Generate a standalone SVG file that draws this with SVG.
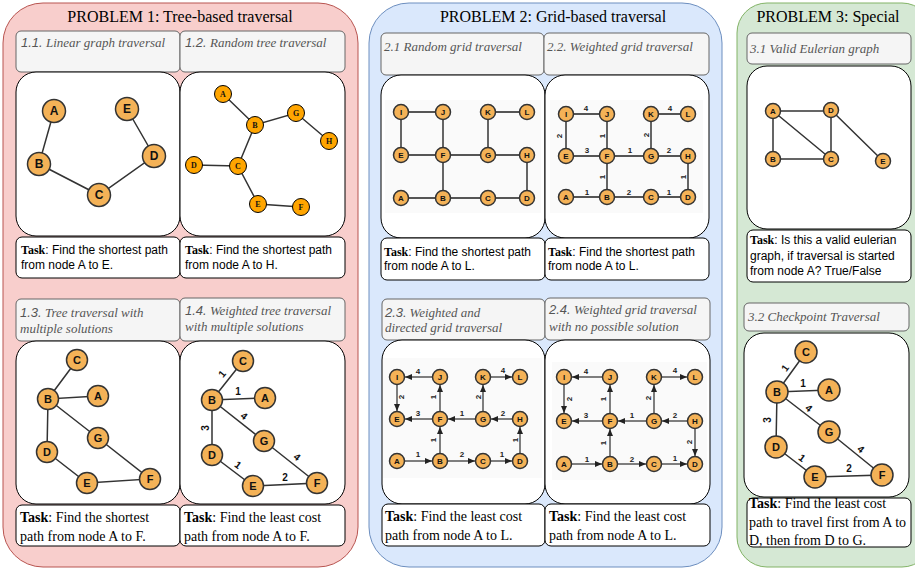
<svg xmlns="http://www.w3.org/2000/svg" width="915" height="570" viewBox="0 0 915 570">
<defs>
<marker id="ar" markerUnits="userSpaceOnUse" markerWidth="7" markerHeight="6" refX="7" refY="3" orient="auto"><path d="M0,0 L7,3 L0,6 z" fill="#222"/></marker>
<style>
.p1{fill:#f8cecc;stroke:#b85450;stroke-width:1}
.p2{fill:#dae8fc;stroke:#6c8ebf;stroke-width:1}
.p3{fill:#d5e8d4;stroke:#82b366;stroke-width:1}
.hd{fill:#f5f5f5;stroke:#666;stroke-width:1}
.gb{fill:#fff;stroke:#000;stroke-width:1}
.tb{fill:#fff;stroke:#000;stroke-width:1}
.bg{fill:#fafafa;stroke:none}
.title{font-family:"Liberation Serif",serif;font-size:16px;fill:#000;text-anchor:middle}
.ht{font-family:"Liberation Serif",serif;font-style:italic;font-size:13px;fill:#555}
.hn{font-family:"Liberation Sans",sans-serif;font-style:italic}
.tk{font-family:"Liberation Sans",sans-serif;font-size:12px;fill:#000}
.tkb{font-family:"Liberation Serif",serif;font-weight:bold}
.ts{font-family:"Liberation Serif",serif;font-size:14px;fill:#000}
.n{fill:#f4b257;stroke:#333;stroke-width:1.5}
.no{fill:#ffa500;stroke:#000;stroke-width:1}
.nl{font-family:"Liberation Sans",sans-serif;font-weight:bold;text-anchor:middle;fill:#111}
.nls{font-family:"Liberation Serif",serif;font-weight:bold;text-anchor:middle;font-size:8px;fill:#111}
.e{stroke:#333;stroke-width:1.5;fill:none}
.g{stroke:#555;stroke-width:1.8;fill:none}
.d{stroke:#555;stroke-width:1.5;fill:none;marker-end:url(#ar)}
.w{font-family:"Liberation Sans",sans-serif;font-weight:bold;font-size:10px;text-anchor:middle;fill:#111}
.ws{font-family:"Liberation Sans",sans-serif;font-weight:bold;font-size:8px;text-anchor:middle;fill:#222}
.s8{font-size:8px}.s11{font-size:11px}.s12{font-size:12px}
</style>
</defs>

<g id="panel1">
<rect class="p1" x="3" y="3" width="355" height="564" rx="40"/>
<text class="title" x="180" y="22">PROBLEM 1: Tree-based traversal</text>
<rect class="hd" x="16" y="31" width="164" height="41" rx="5"/>
<text class="ht" x="21" y="47"><tspan class="hn">1.1.</tspan> Linear graph traversal</text>
<rect class="hd" x="180" y="31" width="165" height="41" rx="5"/>
<text class="ht" x="185" y="47"><tspan class="hn">1.2.</tspan> Random tree traversal</text>
<rect class="gb" x="16" y="72" width="164" height="164" rx="20"/>
<rect class="gb" x="180" y="72" width="165" height="164" rx="20"/>
<rect class="tb" x="16" y="237" width="164" height="41" rx="6"/>
<text class="tk" x="21" y="254"><tspan class="tkb">Task</tspan>: Find the shortest path</text>
<text class="tk" x="21" y="269">from node A to E.</text>
<rect class="tb" x="180" y="237" width="165" height="41" rx="6"/>
<text class="tk" x="185" y="254"><tspan class="tkb">Task</tspan>: Find the shortest path</text>
<text class="tk" x="185" y="269">from node A to H.</text>
<rect class="hd" x="16" y="299" width="164" height="42" rx="5"/>
<text class="ht" x="20" y="317"><tspan class="hn">1.3.</tspan> Tree traversal with</text>
<text class="ht" x="20" y="333">multiple solutions</text>
<rect class="hd" x="180" y="298" width="165" height="43" rx="5"/>
<text class="ht" x="185" y="315"><tspan class="hn">1.4.</tspan> Weighted tree traversal</text>
<text class="ht" x="185" y="331">with multiple solutions</text>
<rect class="gb" x="16" y="341" width="164" height="163" rx="20"/>
<rect class="gb" x="180" y="341" width="165" height="163" rx="20"/>
<rect class="tb" x="16" y="505" width="164" height="41" rx="6"/>
<text class="ts" x="20" y="522"><tspan class="tkb">Task</tspan>: Find the shortest</text>
<text class="ts" x="20" y="541">path from node A to F.</text>
<rect class="tb" x="180" y="505" width="165" height="41" rx="6"/>
<text class="ts" x="184" y="522"><tspan class="tkb">Task</tspan>: Find the least cost</text>
<text class="ts" x="184" y="541">path from node A to F.</text>
</g>

<g id="panel2">
<rect class="p2" x="369" y="3" width="353" height="564" rx="40"/>
<text class="title" x="553" y="22">PROBLEM 2: Grid-based traversal</text>
<rect class="hd" x="381" y="33" width="163" height="42" rx="5"/>
<text class="ht" x="384" y="51">2.1 Random grid traversal</text>
<rect class="hd" x="544" y="33" width="165" height="42" rx="5"/>
<text class="ht" x="547" y="51">2.2. Weighted grid traversal</text>
<rect class="gb" x="381" y="75" width="164" height="163" rx="20"/>
<rect class="gb" x="545" y="75" width="164" height="163" rx="20"/>
<rect class="bg" x="385" y="100" width="156" height="113"/>
<rect class="bg" x="550" y="100" width="153" height="113"/>
<rect class="tb" x="381" y="238" width="164" height="42" rx="6"/>
<text class="tk" x="384" y="256"><tspan class="tkb">Task</tspan>: Find the shortest path</text>
<text class="tk" x="384" y="270">from node A to L.</text>
<rect class="tb" x="545" y="238" width="164" height="42" rx="6"/>
<text class="tk" x="548" y="256"><tspan class="tkb">Task</tspan>: Find the shortest path</text>
<text class="tk" x="548" y="270">from node A to L.</text>
<rect class="hd" x="382" y="299" width="163" height="41" rx="5"/>
<text class="ht" x="385" y="317"><tspan class="hn">2.3</tspan>. Weighted and</text>
<text class="ht" x="385" y="332">directed grid traversal</text>
<rect class="hd" x="545" y="298" width="165" height="42" rx="5"/>
<text class="ht" x="549" y="314"><tspan class="hn">2.4.</tspan> Weighted grid traversal</text>
<text class="ht" x="549" y="331">with no possible solution</text>
<rect class="gb" x="382" y="340" width="163" height="164" rx="20"/>
<rect class="gb" x="545" y="340" width="165" height="164" rx="20"/>
<rect class="bg" x="383" y="358" width="159" height="120"/>
<rect class="bg" x="552" y="362" width="155" height="118"/>
<rect class="tb" x="382" y="504" width="163" height="42" rx="6"/>
<text class="ts" x="385" y="521"><tspan class="tkb">Task</tspan>: Find the least cost</text>
<text class="ts" x="385" y="540">path from node A to L.</text>
<rect class="tb" x="545" y="504" width="165" height="42" rx="6"/>
<text class="ts" x="549" y="521"><tspan class="tkb">Task</tspan>: Find the least cost</text>
<text class="ts" x="549" y="540">path from node A to L.</text>
</g>

<g id="panel3">
<rect class="p3" x="737" y="3" width="195" height="564" rx="30"/>
<text class="title" x="828" y="22">PROBLEM 3: Special</text>
<rect class="hd" x="747" y="33" width="164" height="31" rx="5"/>
<text class="ht" x="750" y="53">3.1 Valid Eulerian graph</text>
<rect class="gb" x="747" y="66" width="164" height="163" rx="20"/>
<rect class="tb" x="747" y="230" width="164" height="52" rx="6"/>
<text class="tk" x="750" y="244"><tspan class="tkb">Task</tspan>: Is this a valid eulerian</text>
<text class="tk" x="750" y="260">graph, if traversal is started</text>
<text class="tk" x="750" y="275">from node A? True/False</text>
<rect class="hd" x="744" y="303" width="165" height="28" rx="5"/>
<text class="ht" x="748" y="321">3.2 Checkpoint Traversal</text>
<rect class="gb" x="744" y="333" width="165" height="164" rx="20"/>
<rect class="tb" x="747" y="498" width="164" height="49" rx="6"/>
<text class="ts" x="749" y="508"><tspan class="tkb">Task</tspan>: Find the least cost</text>
<text class="ts" x="749" y="527">path to travel first from A to</text>
<text class="ts" x="749" y="545">D, then from D to G.</text>
</g>

<g id="connectors">
<path class="e" d="M54,111 L39,164 L99,195 L154,156 L127,109"/>
<path class="e" d="M223,94 L255,125 L296,113 L329,141 M255,125 L238,166 L194,165 M238,166 L258,204 L301,207" stroke-width="1.2"/>
<path class="e" d="M77,360 L48,399 L98,396 M48,399 L98,438 L150,479 L87,483 L47,452 L48,399"/>
<path class="e" d="M243,361 L212,400 L265,398 M212,400 L264,441 L317,483 L253,486 L212,455 L212,400"/>
<path class="g" d="M401,112 H443 M488,112 H527 M401,112 V155 M443,112 V198 M488,112 V155 M401,155 H527 M527,155 V198 M401,198 H527"/>
<path class="g" d="M566,114 H607 M651,114 H688 M566,114 V156 M607,114 V197 M651,114 V156 M566,156 H688 M688,156 V197 M566,197 H688"/>
<line class="d" x1="432.5" y1="377" x2="405" y2="377"/>
<line class="d" x1="490.5" y1="377" x2="512" y2="377"/>
<line class="d" x1="397" y1="384.5" x2="397" y2="411"/>
<line class="d" x1="440" y1="411.5" x2="440" y2="385"/>
<line class="d" x1="483" y1="411.5" x2="483" y2="385"/>
<line class="d" x1="432.5" y1="419" x2="405" y2="419"/>
<line class="d" x1="475.5" y1="419" x2="448" y2="419"/>
<line class="d" x1="512.5" y1="419" x2="491" y2="419"/>
<line class="d" x1="440" y1="453.5" x2="440" y2="427"/>
<line class="d" x1="520" y1="453.5" x2="520" y2="427"/>
<line class="d" x1="404.5" y1="461" x2="432" y2="461"/>
<line class="d" x1="447.5" y1="461" x2="475" y2="461"/>
<line class="d" x1="490.5" y1="461" x2="512" y2="461"/>
<line class="d" x1="602.5" y1="377" x2="572" y2="377"/>
<line class="d" x1="661.5" y1="377" x2="687" y2="377"/>
<line class="d" x1="564" y1="384.5" x2="564" y2="413"/>
<line class="d" x1="610" y1="413.5" x2="610" y2="385"/>
<line class="d" x1="654" y1="413.5" x2="654" y2="385"/>
<line class="d" x1="602.5" y1="421" x2="572" y2="421"/>
<line class="d" x1="646.5" y1="421" x2="618" y2="421"/>
<line class="d" x1="687.5" y1="421" x2="662" y2="421"/>
<line class="d" x1="610" y1="456.5" x2="610" y2="429"/>
<line class="d" x1="695" y1="428.5" x2="695" y2="456"/>
<line class="d" x1="571.5" y1="464" x2="602" y2="464"/>
<line class="d" x1="617.5" y1="464" x2="646" y2="464"/>
<line class="d" x1="661.5" y1="464" x2="687" y2="464"/>
<path class="e" d="M773,111 H831 V159 H773 Z M773,111 L831,159 M831,110 L883,161"/>
<path class="e" d="M806,352 L777,392 L829,390 M777,392 L829,432 L882,475 L815,477 L776,447 L777,392"/>

<text class="w" transform="translate(222 374) rotate(-51)" y="3.5">1</text>
<text class="w" x="238" y="395">1</text>
<text class="w" transform="translate(244 416) rotate(38)" y="3.5">4</text>
<text class="w" transform="translate(205 428) rotate(-90)" y="3.5">3</text>
<text class="w" transform="translate(238 465) rotate(37)" y="3.5">1</text>
<text class="w" x="285" y="481">2</text>
<text class="w" transform="translate(297 457) rotate(38)" y="3.5">4</text>
<text class="ws" x="586" y="111">4</text>
<text class="ws" x="670" y="111">4</text>
<text class="ws" transform="translate(559 136) rotate(-90)" y="3">2</text>
<text class="ws" transform="translate(602 136) rotate(-90)" y="3">1</text>
<text class="ws" transform="translate(646 135) rotate(-90)" y="3">2</text>
<text class="ws" x="587" y="153">3</text>
<text class="ws" x="630" y="153">1</text>
<text class="ws" x="669" y="153">2</text>
<text class="ws" transform="translate(602 177) rotate(-90)" y="3">1</text>
<text class="ws" transform="translate(683 177) rotate(-90)" y="3">1</text>
<text class="ws" x="587" y="195">1</text>
<text class="ws" x="629" y="195">2</text>
<text class="ws" x="669" y="195">1</text>
<text class="ws" x="418" y="374">4</text>
<text class="ws" x="503" y="373">4</text>
<text class="ws" transform="translate(401 397) rotate(-90)" y="3">2</text>
<text class="ws" transform="translate(433 397) rotate(-90)" y="3">1</text>
<text class="ws" transform="translate(478 397) rotate(-90)" y="3">2</text>
<text class="ws" x="418" y="416">3</text>
<text class="ws" x="462" y="416">1</text>
<text class="ws" x="503" y="416">2</text>
<text class="ws" transform="translate(433 440) rotate(-90)" y="3">1</text>
<text class="ws" transform="translate(515 440) rotate(-90)" y="3">1</text>
<text class="ws" x="418" y="457">1</text>
<text class="ws" x="462" y="457">2</text>
<text class="ws" x="502" y="457">1</text>
<text class="ws" x="586" y="374">4</text>
<text class="ws" x="675" y="373">4</text>
<text class="ws" transform="translate(569 399) rotate(-90)" y="3">2</text>
<text class="ws" transform="translate(603 399) rotate(-90)" y="3">1</text>
<text class="ws" transform="translate(648 398) rotate(-90)" y="3">2</text>
<text class="ws" x="586" y="418">3</text>
<text class="ws" x="632" y="418">1</text>
<text class="ws" x="675" y="418">2</text>
<text class="ws" transform="translate(603 443) rotate(-90)" y="3">1</text>
<text class="ws" transform="translate(689 442) rotate(-90)" y="3">2</text>
<text class="ws" x="587" y="462">1</text>
<text class="ws" x="632" y="462">2</text>
<text class="ws" x="675" y="461">1</text>
<text class="w" transform="translate(785 368) rotate(-54)" y="3.5">1</text>
<text class="w" x="803" y="387">1</text>
<text class="w" transform="translate(809 408) rotate(40)" y="3.5">4</text>
<text class="w" transform="translate(767 420) rotate(-90)" y="3.5">3</text>
<text class="w" transform="translate(802 458) rotate(37)" y="3.5">1</text>
<text class="w" x="849" y="472">2</text>
<text class="w" transform="translate(861 449) rotate(40)" y="3.5">4</text>
</g>

<g id="n11-A"><circle class="n" cx="54" cy="111" r="11.5"/><text class="nl s12" x="54" y="115">A</text></g>
<g id="n11-B"><circle class="n" cx="39" cy="164" r="11.5"/><text class="nl s12" x="39" y="168">B</text></g>
<g id="n11-C"><circle class="n" cx="99" cy="195" r="11.5"/><text class="nl s12" x="99" y="199">C</text></g>
<g id="n11-D"><circle class="n" cx="154" cy="156" r="11.5"/><text class="nl s12" x="154" y="160">D</text></g>
<g id="n11-E"><circle class="n" cx="127" cy="109" r="11.5"/><text class="nl s12" x="127" y="113">E</text></g>
<g id="n12-A"><circle class="no" cx="223" cy="94" r="8.5"/><text class="nls" x="223" y="97">A</text></g>
<g id="n12-B"><circle class="no" cx="255" cy="125" r="8.5"/><text class="nls" x="255" y="128">B</text></g>
<g id="n12-G"><circle class="no" cx="296" cy="113" r="8.5"/><text class="nls" x="296" y="116">G</text></g>
<g id="n12-H"><circle class="no" cx="329" cy="141" r="8.5"/><text class="nls" x="329" y="144">H</text></g>
<g id="n12-D"><circle class="no" cx="194" cy="165" r="8.5"/><text class="nls" x="194" y="168">D</text></g>
<g id="n12-C"><circle class="no" cx="238" cy="166" r="8.5"/><text class="nls" x="238" y="169">C</text></g>
<g id="n12-E"><circle class="no" cx="258" cy="204" r="8.5"/><text class="nls" x="258" y="207">E</text></g>
<g id="n12-F"><circle class="no" cx="301" cy="207" r="8.5"/><text class="nls" x="301" y="210">F</text></g>
<g id="n13-C"><circle class="n" cx="77" cy="360" r="10.5"/><text class="nl s11" x="77" y="364">C</text></g>
<g id="n13-B"><circle class="n" cx="48" cy="399" r="10.5"/><text class="nl s11" x="48" y="403">B</text></g>
<g id="n13-A"><circle class="n" cx="98" cy="396" r="10.5"/><text class="nl s11" x="98" y="400">A</text></g>
<g id="n13-G"><circle class="n" cx="98" cy="438" r="10.5"/><text class="nl s11" x="98" y="442">G</text></g>
<g id="n13-D"><circle class="n" cx="47" cy="452" r="10.5"/><text class="nl s11" x="47" y="456">D</text></g>
<g id="n13-E"><circle class="n" cx="87" cy="483" r="10.5"/><text class="nl s11" x="87" y="487">E</text></g>
<g id="n13-F"><circle class="n" cx="150" cy="479" r="10.5"/><text class="nl s11" x="150" y="483">F</text></g>
<g id="n14-C"><circle class="n" cx="243" cy="361" r="10.5"/><text class="nl s11" x="243" y="365">C</text></g>
<g id="n14-B"><circle class="n" cx="212" cy="400" r="10.5"/><text class="nl s11" x="212" y="404">B</text></g>
<g id="n14-A"><circle class="n" cx="265" cy="398" r="10.5"/><text class="nl s11" x="265" y="402">A</text></g>
<g id="n14-G"><circle class="n" cx="264" cy="441" r="10.5"/><text class="nl s11" x="264" y="445">G</text></g>
<g id="n14-D"><circle class="n" cx="212" cy="455" r="10.5"/><text class="nl s11" x="212" y="459">D</text></g>
<g id="n14-E"><circle class="n" cx="253" cy="486" r="10.5"/><text class="nl s11" x="253" y="490">E</text></g>
<g id="n14-F"><circle class="n" cx="317" cy="483" r="10.5"/><text class="nl s11" x="317" y="487">F</text></g>
<g id="n21-I"><circle class="n" cx="401" cy="112" r="7.5"/><text class="nl s8" x="401" y="115">I</text></g>
<g id="n21-J"><circle class="n" cx="443" cy="112" r="7.5"/><text class="nl s8" x="443" y="115">J</text></g>
<g id="n21-K"><circle class="n" cx="488" cy="112" r="7.5"/><text class="nl s8" x="488" y="115">K</text></g>
<g id="n21-L"><circle class="n" cx="527" cy="112" r="7.5"/><text class="nl s8" x="527" y="115">L</text></g>
<g id="n21-E"><circle class="n" cx="401" cy="155" r="7.5"/><text class="nl s8" x="401" y="158">E</text></g>
<g id="n21-F"><circle class="n" cx="443" cy="155" r="7.5"/><text class="nl s8" x="443" y="158">F</text></g>
<g id="n21-G"><circle class="n" cx="488" cy="155" r="7.5"/><text class="nl s8" x="488" y="158">G</text></g>
<g id="n21-H"><circle class="n" cx="527" cy="155" r="7.5"/><text class="nl s8" x="527" y="158">H</text></g>
<g id="n21-A"><circle class="n" cx="401" cy="198" r="7.5"/><text class="nl s8" x="401" y="201">A</text></g>
<g id="n21-B"><circle class="n" cx="443" cy="198" r="7.5"/><text class="nl s8" x="443" y="201">B</text></g>
<g id="n21-C"><circle class="n" cx="488" cy="198" r="7.5"/><text class="nl s8" x="488" y="201">C</text></g>
<g id="n21-D"><circle class="n" cx="527" cy="198" r="7.5"/><text class="nl s8" x="527" y="201">D</text></g>
<g id="n22-I"><circle class="n" cx="566" cy="114" r="7.5"/><text class="nl s8" x="566" y="117">I</text></g>
<g id="n22-J"><circle class="n" cx="607" cy="114" r="7.5"/><text class="nl s8" x="607" y="117">J</text></g>
<g id="n22-K"><circle class="n" cx="651" cy="114" r="7.5"/><text class="nl s8" x="651" y="117">K</text></g>
<g id="n22-L"><circle class="n" cx="688" cy="114" r="7.5"/><text class="nl s8" x="688" y="117">L</text></g>
<g id="n22-E"><circle class="n" cx="566" cy="156" r="7.5"/><text class="nl s8" x="566" y="159">E</text></g>
<g id="n22-F"><circle class="n" cx="607" cy="156" r="7.5"/><text class="nl s8" x="607" y="159">F</text></g>
<g id="n22-G"><circle class="n" cx="651" cy="156" r="7.5"/><text class="nl s8" x="651" y="159">G</text></g>
<g id="n22-H"><circle class="n" cx="688" cy="156" r="7.5"/><text class="nl s8" x="688" y="159">H</text></g>
<g id="n22-A"><circle class="n" cx="566" cy="197" r="7.5"/><text class="nl s8" x="566" y="200">A</text></g>
<g id="n22-B"><circle class="n" cx="607" cy="197" r="7.5"/><text class="nl s8" x="607" y="200">B</text></g>
<g id="n22-C"><circle class="n" cx="651" cy="197" r="7.5"/><text class="nl s8" x="651" y="200">C</text></g>
<g id="n22-D"><circle class="n" cx="688" cy="197" r="7.5"/><text class="nl s8" x="688" y="200">D</text></g>
<g id="n23-I"><circle class="n" cx="397" cy="377" r="7.5"/><text class="nl s8" x="397" y="380">I</text></g>
<g id="n23-J"><circle class="n" cx="440" cy="377" r="7.5"/><text class="nl s8" x="440" y="380">J</text></g>
<g id="n23-K"><circle class="n" cx="483" cy="377" r="7.5"/><text class="nl s8" x="483" y="380">K</text></g>
<g id="n23-L"><circle class="n" cx="520" cy="377" r="7.5"/><text class="nl s8" x="520" y="380">L</text></g>
<g id="n23-E"><circle class="n" cx="397" cy="419" r="7.5"/><text class="nl s8" x="397" y="422">E</text></g>
<g id="n23-F"><circle class="n" cx="440" cy="419" r="7.5"/><text class="nl s8" x="440" y="422">F</text></g>
<g id="n23-G"><circle class="n" cx="483" cy="419" r="7.5"/><text class="nl s8" x="483" y="422">G</text></g>
<g id="n23-H"><circle class="n" cx="520" cy="419" r="7.5"/><text class="nl s8" x="520" y="422">H</text></g>
<g id="n23-A"><circle class="n" cx="397" cy="461" r="7.5"/><text class="nl s8" x="397" y="464">A</text></g>
<g id="n23-B"><circle class="n" cx="440" cy="461" r="7.5"/><text class="nl s8" x="440" y="464">B</text></g>
<g id="n23-C"><circle class="n" cx="483" cy="461" r="7.5"/><text class="nl s8" x="483" y="464">C</text></g>
<g id="n23-D"><circle class="n" cx="520" cy="461" r="7.5"/><text class="nl s8" x="520" y="464">D</text></g>
<g id="n24-I"><circle class="n" cx="564" cy="377" r="7.5"/><text class="nl s8" x="564" y="380">I</text></g>
<g id="n24-J"><circle class="n" cx="610" cy="377" r="7.5"/><text class="nl s8" x="610" y="380">J</text></g>
<g id="n24-K"><circle class="n" cx="654" cy="377" r="7.5"/><text class="nl s8" x="654" y="380">K</text></g>
<g id="n24-L"><circle class="n" cx="695" cy="377" r="7.5"/><text class="nl s8" x="695" y="380">L</text></g>
<g id="n24-E"><circle class="n" cx="564" cy="421" r="7.5"/><text class="nl s8" x="564" y="424">E</text></g>
<g id="n24-F"><circle class="n" cx="610" cy="421" r="7.5"/><text class="nl s8" x="610" y="424">F</text></g>
<g id="n24-G"><circle class="n" cx="654" cy="421" r="7.5"/><text class="nl s8" x="654" y="424">G</text></g>
<g id="n24-H"><circle class="n" cx="695" cy="421" r="7.5"/><text class="nl s8" x="695" y="424">H</text></g>
<g id="n24-A"><circle class="n" cx="564" cy="464" r="7.5"/><text class="nl s8" x="564" y="467">A</text></g>
<g id="n24-B"><circle class="n" cx="610" cy="464" r="7.5"/><text class="nl s8" x="610" y="467">B</text></g>
<g id="n24-C"><circle class="n" cx="654" cy="464" r="7.5"/><text class="nl s8" x="654" y="467">C</text></g>
<g id="n24-D"><circle class="n" cx="695" cy="464" r="7.5"/><text class="nl s8" x="695" y="467">D</text></g>
<g id="n31-A"><circle class="n" cx="773" cy="111" r="7.5"/><text class="nl s8" x="773" y="114">A</text></g>
<g id="n31-D"><circle class="n" cx="831" cy="110" r="7.5"/><text class="nl s8" x="831" y="113">D</text></g>
<g id="n31-B"><circle class="n" cx="773" cy="159" r="7.5"/><text class="nl s8" x="773" y="162">B</text></g>
<g id="n31-C"><circle class="n" cx="831" cy="159" r="7.5"/><text class="nl s8" x="831" y="162">C</text></g>
<g id="n31-E"><circle class="n" cx="883" cy="161" r="7.5"/><text class="nl s8" x="883" y="164">E</text></g>
<g id="n32-C"><circle class="n" cx="806" cy="352" r="11"/><text class="nl s11" x="806" y="356">C</text></g>
<g id="n32-B"><circle class="n" cx="777" cy="392" r="11"/><text class="nl s11" x="777" y="396">B</text></g>
<g id="n32-A"><circle class="n" cx="829" cy="390" r="11"/><text class="nl s11" x="829" y="394">A</text></g>
<g id="n32-G"><circle class="n" cx="829" cy="432" r="11"/><text class="nl s11" x="829" y="436">G</text></g>
<g id="n32-D"><circle class="n" cx="776" cy="447" r="11"/><text class="nl s11" x="776" y="451">D</text></g>
<g id="n32-E"><circle class="n" cx="815" cy="477" r="11"/><text class="nl s11" x="815" y="481">E</text></g>
<g id="n32-F"><circle class="n" cx="882" cy="475" r="11"/><text class="nl s11" x="882" y="479">F</text></g>
</svg>
